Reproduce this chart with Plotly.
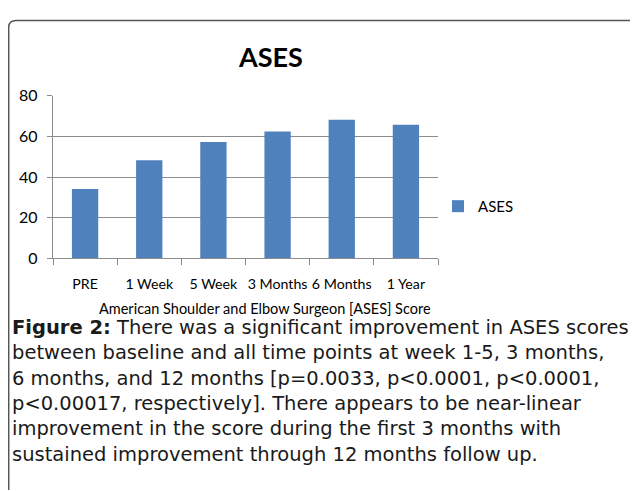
import plotly.graph_objects as go

W, H = 638, 491
OFF = 8  # page body margin offset

categories = ["PRE", "1 Week", "5 Week", "3 Months", "6 Months", "1 Year"]
ases_values = [34.1, 48.3, 57.3, 62.5, 68.2, 65.8]
y_ticks = [0, 20, 40, 60, 80]

title_text = "ASES"
series_name = "ASES"
x_axis_title = "American Shoulder and Elbow Surgeon [ASES] Score"
caption_lines = [
    "<b>Figure 2:</b> There was a significant improvement in ASES scores",
    "between baseline and all time points at week 1-5, 3 months,",
    "6 months, and 12 months [p=0.0033, p<0.0001, p<0.0001,",
    "p<0.00017, respectively]. There appears to be near-linear",
    "improvement in the score during the first 3 months with",
    "sustained improvement through 12 months follow up.",
]

def px_x(x):
    return (x - OFF) / W

def px_y(y):
    return 1 - (y - OFF) / H

chart_font = "Lato"
caption_font = "DejaVu Sans"
bar_color = "#4F81BD"
grid_color = "#8C8C8C"

fig = go.Figure()
fig.add_trace(go.Bar(
    x=categories, y=ases_values, name=series_name,
    marker=dict(color=bar_color, line=dict(width=0)),
    showlegend=True,
))

fig.update_layout(
    width=W, height=H,
    margin=dict(l=0, r=0, t=0, b=0),
    paper_bgcolor="white", plot_bgcolor="white",
    bargap=0.59,
    font=dict(family=chart_font, color="black", size=15),
    xaxis=dict(
        domain=[px_x(53), px_x(438)],
        showline=True, linecolor=grid_color, linewidth=1.3,
        ticks="outside", tickson="boundaries", ticklen=6, tickcolor=grid_color, tickwidth=1.3,
        showgrid=False, tickfont=dict(size=14.2, family=chart_font),
        tickangle=0,
        ticklabelstandoff=12,
    ),
    yaxis=dict(
        domain=[px_y(258), px_y(89)],
        range=[0, 80],
        tickvals=y_ticks,
        showline=True, linecolor=grid_color, linewidth=1.3,
        ticks="outside", ticklen=5, tickcolor=grid_color, tickwidth=1.3,
        showgrid=True, gridcolor=grid_color, gridwidth=1.3,
        zeroline=False,
        tickfont=dict(size=16, family=chart_font),
        ticklabelstandoff=6,
    ),
    legend=dict(
        x=px_x(438), y=px_y(204), xanchor="left", yanchor="middle",
        font=dict(size=15, family=chart_font),
        itemwidth=30, bgcolor="rgba(0,0,0,0)",
    ),
)

# Title
fig.add_annotation(
    text=f"<b>{title_text}</b>", x=px_x(270), y=px_y(48), xref="paper", yref="paper",
    xanchor="center", yanchor="middle", showarrow=False,
    font=dict(size=27, family=chart_font, color="black"),
)
# X axis title
fig.add_annotation(
    text=x_axis_title, x=px_x(265), y=px_y(310), xref="paper", yref="paper",
    xanchor="center", yanchor="middle", showarrow=False, borderpad=0,
    font=dict(size=14.5, family=chart_font, color="black"),
)

# Caption (one block, 1.3em line spacing)
fig.add_annotation(
    text="<br>".join(caption_lines), x=px_x(11), y=px_y(396), xref="paper", yref="paper",
    xanchor="left", yanchor="middle", align="left", showarrow=False, borderpad=0,
    font=dict(size=19.5, family=caption_font, color="#1a1a1a"),
)

# Frame: left & top border with rounded corner
fig.add_shape(
    type="path", xref="paper", yref="paper",
    path=(f"M {px_x(8.7)} {px_y(H + OFF)} L {px_x(8.7)} {px_y(18)} "
          f"Q {px_x(8.7)} {px_y(10.5)} {px_x(16)} {px_y(10.5)} L {px_x(W + OFF)} {px_y(10.5)}"),
    line=dict(color="#555555", width=1.5),
)

fig.write_html("out.html")
